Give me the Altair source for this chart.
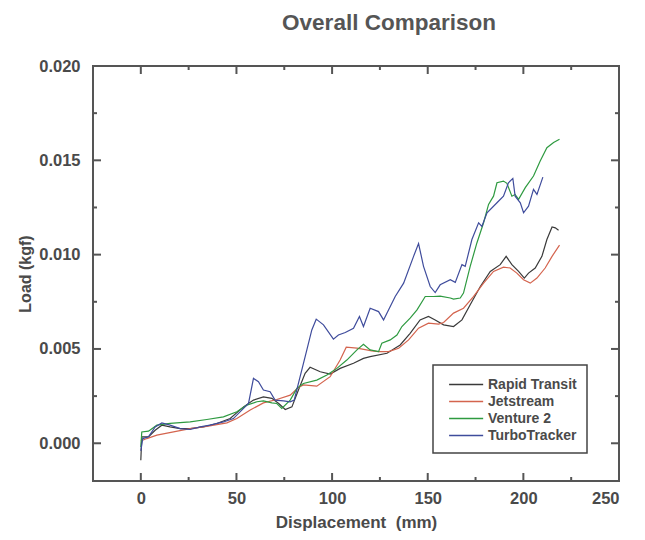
import altair as alt
import pandas as pd

series_names = ["Rapid Transit", "Jetstream", "Venture 2", "TurboTracker"]
series_colors = ["#3a3a3a", "#d4644e", "#2e9a40", "#3f4c9c"]

rt_x = [0, 0.5, 4.0, 7.5, 11, 15.3, 20.6, 25.8, 32.7, 39.7, 46.7, 53.7, 58.9, 64.1, 68.5, 72.1, 75.5, 79,
        82.4, 85.9, 88.5, 93.8, 99, 104.2, 111.2, 116.4, 119.9, 128.7, 135.6, 140.8, 146, 150.4, 153.9, 158.3,
        163.5, 167.9, 172.2, 177.5, 182.7, 187.9, 191, 194, 197.5, 200.5, 202.7, 206.2, 209.7, 212.3, 215,
        216.7, 218.4]
rt_y = [-0.0009, 0.00034, 0.00034, 0.00069, 0.00096, 0.00087, 0.00078, 0.00078, 0.00087, 0.00105, 0.00131,
        0.00193, 0.00229, 0.00246, 0.00238, 0.00211, 0.00179, 0.00193, 0.00282, 0.00371, 0.00403, 0.00379,
        0.00367, 0.00397, 0.00424, 0.0045, 0.00459, 0.00477, 0.00521, 0.00583, 0.00654, 0.00672, 0.00654,
        0.00628, 0.00619, 0.00654, 0.00734, 0.00831, 0.00911, 0.00947, 0.00991, 0.00947, 0.00911, 0.00876,
        0.00902, 0.00929, 0.00991, 0.0108, 0.01147, 0.01142, 0.01129]

js_x = [0, 3.1, 8.4, 17.1, 25.8, 34.5, 45, 50.2, 57.2, 64.1, 71.1, 78.1, 82.4, 85, 92, 99, 104.2, 107.4, 113,
        118, 120.7, 124.3, 129.5, 134.8, 140, 145.2, 150.4, 155.7, 158.3, 163.5, 168.7, 173.9, 179.2, 184.4,
        189.6, 193.1, 196.6, 200.1, 203.6, 207.1, 211.4, 215, 218.9]
js_y = [0.00012, 0.00025, 0.00043, 0.0006, 0.00078, 0.0009, 0.00108, 0.00131, 0.00176, 0.00214, 0.00232,
        0.00255, 0.00296, 0.00309, 0.00303, 0.00353, 0.00441, 0.00509, 0.00504, 0.00495, 0.0049, 0.00486,
        0.00486, 0.00504, 0.00548, 0.0061, 0.00637, 0.00632, 0.0064, 0.0069, 0.00716, 0.00778, 0.00849,
        0.00911, 0.00934, 0.00929, 0.00902, 0.00867, 0.00849, 0.00876, 0.00929, 0.00991, 0.0105]

v2_x = [0, 0.5, 4.0, 8.4, 15.3, 25.8, 34.5, 43.2, 50.2, 55.4, 60.7, 64.1, 68.5, 71.1, 73.7, 78.1, 81.6, 85,
        92, 97.3, 102.5, 107.7, 113, 116.4, 119.9, 124.3, 126, 130.4, 133.9, 136.5, 140.8, 144.4, 148.7, 153,
        156.5, 161.8, 163.5, 167, 168.7, 172.2, 175.7, 179.2, 181.8, 184.4, 186.2, 189.6, 191.4, 194, 195.7,
        197.5, 201, 205.3, 208.8, 212.3, 215.8, 218.9]
v2_y = [-0.0002, 0.0006, 0.00064, 0.00096, 0.00105, 0.00113, 0.00126, 0.0014, 0.00167, 0.00202, 0.0022,
        0.00225, 0.00214, 0.00211, 0.00185, 0.00229, 0.00291, 0.00317, 0.00335, 0.00362, 0.00397, 0.00441,
        0.00495, 0.00525, 0.00495, 0.00486, 0.0053, 0.00548, 0.00574, 0.00619, 0.00663, 0.00707, 0.00778,
        0.00778, 0.0078, 0.0077, 0.00764, 0.0077, 0.00796, 0.00938, 0.01062, 0.01169, 0.01266, 0.0131,
        0.01381, 0.0139, 0.01378, 0.0131, 0.01319, 0.01293, 0.01355, 0.01417, 0.01496, 0.01567, 0.01594,
        0.01612]

tt_x = [0, 1.0, 4.0, 7.5, 11, 15.3, 20.6, 25.8, 31, 36.2, 43.2, 48.4, 53.7, 56.3, 58.9, 61.5, 64.1, 67.6,
        70.2, 74.6, 78.1, 80.2, 82.4, 86.8, 89.4, 91.7, 95.5, 100.7, 103.3, 106.9, 111.2, 114.3, 116.4, 119.9,
        124.3, 126.9, 133, 137.4, 142.6, 145.2, 147.8, 151.3, 153.9, 156.5, 161.8, 164.4, 167.9, 169.6, 173.1,
        176.6, 178.3, 181, 186.2, 189.6, 192.2, 194.5, 195.7, 198.4, 200.1, 202.7, 205.3, 207.1, 210.2]
tt_y = [-0.0004, 0.00025, 0.00034, 0.00087, 0.00108, 0.00096, 0.00078, 0.00073, 0.00087, 0.00096, 0.00113,
        0.00131, 0.00185, 0.00211, 0.00344, 0.00326, 0.00282, 0.00273, 0.00229, 0.00225, 0.0022, 0.00229,
        0.00317, 0.00495, 0.00601, 0.00658, 0.00628, 0.00552, 0.00574, 0.00587, 0.0061, 0.00672, 0.00619,
        0.00716, 0.00698, 0.00654, 0.00778, 0.00849, 0.00991, 0.01059, 0.00938, 0.00831, 0.00799, 0.0084,
        0.00867, 0.00853, 0.00947, 0.00938, 0.0108, 0.01169, 0.0115, 0.01222, 0.01275, 0.0131, 0.01381,
        0.01404, 0.0131, 0.01275, 0.01222, 0.01257, 0.01346, 0.01319, 0.01411]

x_major = [0, 50, 100, 150, 200, 250]
x_minor = [25, 75, 125, 175, 225]
y_major = [0.0, 0.005, 0.010, 0.015, 0.020]
y_minor = [0.0025, 0.0075, 0.0125, 0.0175]

W, H = 526, 415
FONT = "Liberation Sans"
TXT = "#4a4a4a"
FRAME = "#555555"

rows = []
for name, xs, ys in [(series_names[0], rt_x, rt_y), (series_names[1], js_x, js_y),
                     (series_names[2], v2_x, v2_y), (series_names[3], tt_x, tt_y)]:
    for i, (xv, yv) in enumerate(zip(xs, ys)):
        rows.append({"series": name, "Displacement": xv, "Load": yv, "i": i})
df = pd.DataFrame(rows)

xscale = alt.Scale(domain=[-25, 250], nice=False, zero=False)
yscale = alt.Scale(domain=[-0.002, 0.020], nice=False, zero=False)

lines = alt.Chart(df).mark_line(strokeWidth=1.2).encode(
    x=alt.X("Displacement:Q", scale=xscale,
            axis=alt.Axis(title="Displacement\u00a0\u00a0(mm)", values=x_major, format="d",
                          ticks=False, domain=False, grid=False, labelPadding=9,
                          titlePadding=8, titleFontSize=17)),
    y=alt.Y("Load:Q", scale=yscale,
            axis=alt.Axis(title="Load (kgf)", values=y_major, format=".3f",
                          ticks=False, domain=False, grid=False, labelPadding=13,
                          titlePadding=5)),
    color=alt.Color("series:N",
                    scale=alt.Scale(domain=series_names, range=series_colors),
                    legend=alt.Legend(title=None, orient="none", legendX=340, legendY=299,
                                      symbolType="M-0.4,0H3.6", symbolSize=290,
                                      symbolStrokeWidth=1.3, labelOffset=26,
                                      labelFontSize=14, labelFont=FONT, labelFontWeight="bold",
                                      labelColor=TXT, strokeColor="#444444",
                                      padding=10, rowPadding=0)),
    order="i:Q",
)


def xticks(vals, length):
    d = pd.DataFrame({"Displacement": vals})
    base = alt.Chart(d).mark_rule(color=FRAME, strokeWidth=2)
    bottom = base.encode(x=alt.X("Displacement:Q", scale=xscale),
                         y=alt.value(H), y2=alt.value(H - length))
    top = base.encode(x=alt.X("Displacement:Q", scale=xscale),
                      y=alt.value(0), y2=alt.value(length))
    return [bottom, top]


def yticks(vals, length):
    d = pd.DataFrame({"Load": vals})
    base = alt.Chart(d).mark_rule(color=FRAME, strokeWidth=2)
    left = base.encode(y=alt.Y("Load:Q", scale=yscale),
                       x=alt.value(0), x2=alt.value(length))
    right = base.encode(y=alt.Y("Load:Q", scale=yscale),
                        x=alt.value(W), x2=alt.value(W - length))
    return [left, right]


layers = [lines] + xticks(x_major, 8) + xticks(x_minor, 4) + yticks(y_major, 8) + yticks(y_minor, 4)

chart = alt.layer(*layers).properties(
    width=W, height=H,
    title=alt.Title("Overall Comparison", fontSize=22.5, font=FONT, fontWeight="bold",
                    color="#555555", anchor="middle", frame="group", dx=33, offset=1,
                    baseline="bottom"),
    autosize=alt.AutoSizeParams(type="none"),
    padding={"left": 85, "top": 58, "right": 18, "bottom": 51},
).configure_view(
    stroke=FRAME, strokeWidth=2
).configure_axis(
    labelFont=FONT, labelFontSize=16.5, labelFontWeight="bold", labelColor=TXT,
    titleFont=FONT, titleFontSize=16, titleFontWeight="bold", titleColor=TXT,
).configure_legend(
    strokeWidth=1.5
)

chart.save("out.html", embed_options={"renderer": "svg", "actions": False})
